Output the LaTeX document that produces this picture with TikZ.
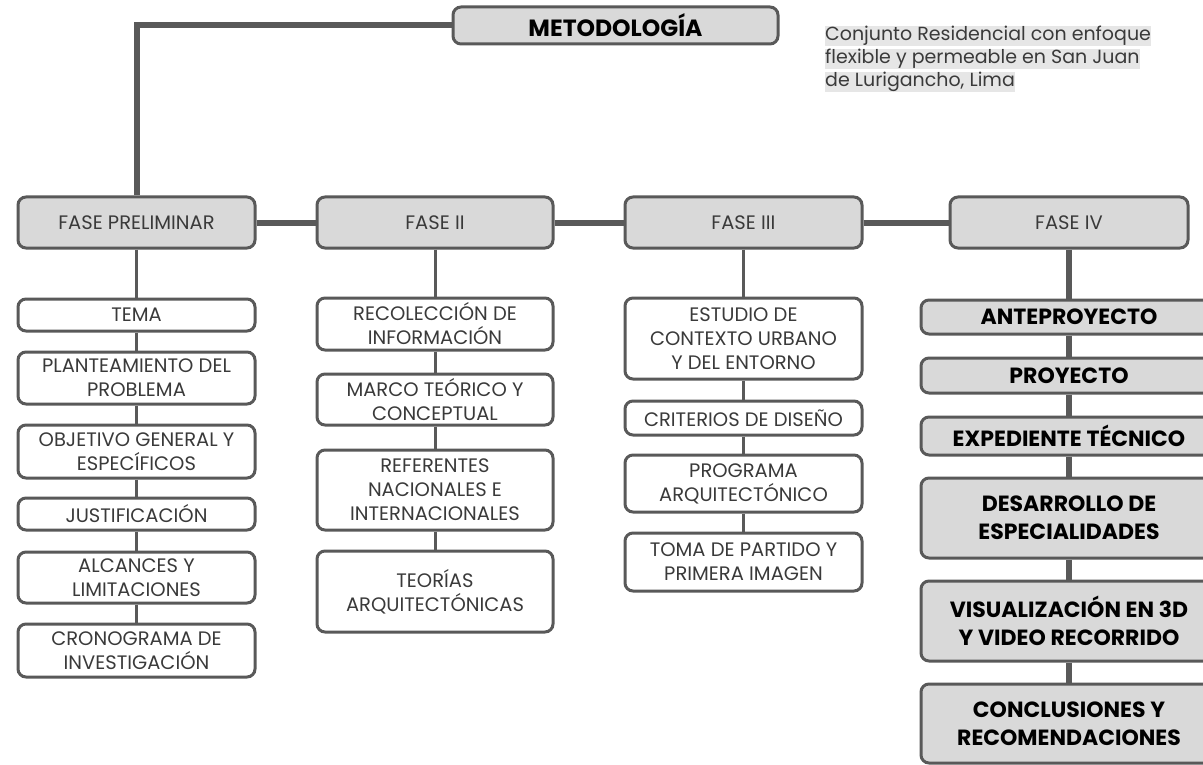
\documentclass[tikz,border=0pt]{standalone}
\usepackage{fontspec}
\setmainfont{Poppins}
\newfontfamily\notefont{Poppins}
\definecolor{boxfill}{HTML}{D9D9D9}
\definecolor{boxline}{HTML}{595959}
\definecolor{txt}{HTML}{3A3A3A}
\definecolor{notebg}{HTML}{E6E6E6}
\begin{document}
\begin{tikzpicture}[x=1pt,y=-1pt,
  base/.style={draw=boxline,line width=3pt,rounded corners=8pt,align=center,
    inner sep=0pt,text=txt,font=\fontsize{19.5}{24}\selectfont},
  item/.style={base,fill=white},
  phase/.style={base,fill=boxfill,minimum height=51pt},
  bold/.style={base,fill=boxfill,text=black,font=\fontsize{22}{28}\selectfont\bfseries},
  notetext/.style={anchor=west,inner sep=0pt,fill=notebg,text=txt,
    font=\notefont\fontsize{19}{23}\selectfont},
  thin/.style={draw=boxline,line width=3pt},
  thick/.style={draw=boxline,line width=6pt}]
\useasboundingbox (0,0) rectangle (1203,765);

% title and phase row
\node[bold,minimum width=325pt,minimum height=37pt,font=\fontsize{23.5}{24}\selectfont\bfseries] (met) at (615.5,25.5) {METODOLOGÍA};
\node[phase,minimum width=237pt] (fp) at (136.5,222.5) {FASE PRELIMINAR};
\node[phase,minimum width=236pt] (f2) at (435,222.5) {FASE II};
\node[phase,minimum width=237pt] (f3) at (743.5,222.5) {FASE III};
\node[phase,minimum width=238pt] (f4) at (1069,222.5) {FASE IV};

\node[notetext] (n1) at (825,36) {Conjunto Residencial con enfoque};
\node[notetext] (n2) at (825,59) {flexible y permeable en San Juan};
\node[notetext] (n3) at (825,82) {de Lurigancho, Lima};

% preliminary phase
\node[item,minimum width=237pt,minimum height=32pt] (c1a) at (136.5,315) {TEMA};
\node[item,minimum width=237pt,minimum height=52pt] (c1b) at (136.5,378) {PLANTEAMIENTO DEL\\PROBLEMA};
\node[item,minimum width=237pt,minimum height=53pt] (c1c) at (136.5,451.5) {OBJETIVO GENERAL Y\\ESPECÍFICOS};
\node[item,minimum width=237pt,minimum height=32pt] (c1d) at (136.5,514) {JUSTIFICACIÓN};
\node[item,minimum width=237pt,minimum height=51pt] (c1e) at (136.5,577.5) {ALCANCES Y\\LIMITACIONES};
\node[item,minimum width=237pt,minimum height=53pt] (c1f) at (136.5,650.5) {CRONOGRAMA DE\\INVESTIGACIÓN};

% phase II
\node[item,minimum width=236pt,minimum height=52pt] (c2a) at (435,324) {RECOLECCIÓN DE\\INFORMACIÓN};
\node[item,minimum width=236pt,minimum height=51pt] (c2b) at (435,399.5) {MARCO TEÓRICO Y\\CONCEPTUAL};
\node[item,minimum width=236pt,minimum height=80pt] (c2c) at (435,490) {REFERENTES\\NACIONALES E\\INTERNACIONALES};
\node[item,minimum width=236pt,minimum height=81pt] (c2d) at (435,591.5) {TEORÍAS\\ARQUITECTÓNICAS};

% phase III
\node[item,minimum width=237pt,minimum height=81pt] (c3a) at (743.5,338.5) {ESTUDIO DE\\CONTEXTO URBANO\\Y DEL ENTORNO};
\node[item,minimum width=237pt,minimum height=34pt] (c3b) at (743.5,418) {CRITERIOS DE DISEÑO};
\node[item,minimum width=237pt,minimum height=57pt] (c3c) at (743.5,483.5) {PROGRAMA\\ARQUITECTÓNICO};
\node[item,minimum width=237pt,minimum height=58pt] (c3d) at (743.5,562) {TOMA DE PARTIDO Y\\PRIMERA IMAGEN};

% phase IV
\node[bold,minimum width=296pt,minimum height=34pt] (c4a) at (1069,317) {ANTEPROYECTO};
\node[bold,minimum width=296pt,minimum height=35pt] (c4b) at (1069,375.5) {PROYECTO};
\node[bold,minimum width=296pt,minimum height=38pt] (c4c) at (1069,436) {EXPEDIENTE TÉCNICO};
\node[bold,minimum width=296pt,minimum height=80pt] (c4d) at (1069,518) {DESARROLLO DE\\ESPECIALIDADES};
\node[bold,minimum width=296pt,minimum height=80pt] (c4e) at (1069,621) {VISUALIZACIÓN EN 3D\\Y VIDEO RECORRIDO};
\node[bold,minimum width=296pt,minimum height=79pt] (c4f) at (1069,723.5) {CONCLUSIONES Y\\RECOMENDACIONES};

% connectors
\draw[thick] (met.west) -| (fp.north);
\draw[thick] (fp) -- (f2);
\draw[thick] (f2) -- (f3);
\draw[thick] (f3) -- (f4);

\draw[thin] (fp) -- (c1a);
\draw[thin] (c1a) -- (c1b);
\draw[thin] (c1b) -- (c1c);
\draw[thin] (c1c) -- (c1d);
\draw[thin] (c1d) -- (c1e);
\draw[thin] (c1e) -- (c1f);

\draw[thin] (f2) -- (c2a);
\draw[thin] (c2a) -- (c2b);
\draw[thin] (c2b) -- (c2c);
\draw[thin] (c2c) -- (c2d);

\draw[thin] (f3) -- (c3a);
\draw[thin] (c3a) -- (c3b);
\draw[thin] (c3b) -- (c3c);
\draw[thin] (c3c) -- (c3d);

\draw[thick] (f4) -- (c4a);
\draw[thick] (c4a) -- (c4b);
\draw[thick] (c4b) -- (c4c);
\draw[thick] (c4c) -- (c4d);
\draw[thick] (c4d) -- (c4e);
\draw[thick] (c4e) -- (c4f);
\end{tikzpicture}
\end{document}
